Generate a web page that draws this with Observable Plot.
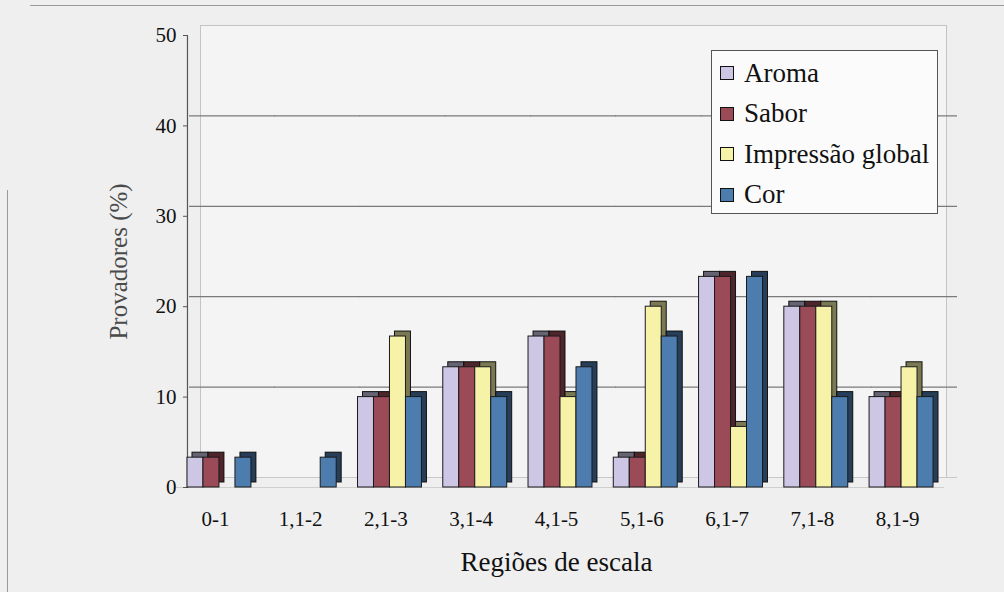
<!DOCTYPE html>
<html>
<head>
<meta charset="utf-8">
<script src="https://cdn.jsdelivr.net/npm/d3@7"></script>
<script src="https://cdn.jsdelivr.net/npm/@observablehq/plot@0.6"></script>
<style>
  html, body { margin: 0; padding: 0; background: #efefef; }
  #wrap { position: relative; width: 1004px; height: 592px; overflow: hidden; font-family: "Liberation Serif", "Times New Roman", serif; }
  #chart svg { display: block; }
  #legend { position: absolute; left: 711px; top: 50px; width: 225px; height: 162px; background: #fbfbfb; border: 1px solid #555; box-sizing: content-box; }
  .item { position: absolute; left: 8px; height: 30px; display: flex; align-items: center; font-family: "Liberation Serif", "Times New Roman", serif; font-size: 27px; color: #111; white-space: nowrap; }
  .sw { width: 12px; height: 12px; border: 1.5px solid #111; margin-right: 10px; flex: none; }
  #topline { position: absolute; left: 30px; top: 5px; width: 974px; height: 1px; background: #9a9a9a; }
  #leftline { position: absolute; left: 7px; top: 190px; width: 1px; height: 402px; background: #9a9a9a; }
</style>
</head>
<body>
<div id="wrap">
  <div id="topline"></div>
  <div id="leftline"></div>
  <div id="chart"></div>
  <div id="legend"></div>
</div>
<script>
// ---- data ----
const regions = ["0-1", "1,1-2", "2,1-3", "3,1-4", "4,1-5", "5,1-6", "6,1-7", "7,1-8", "8,1-9"];
const series = ["Aroma", "Sabor", "Impressão global", "Cor"];
const aroma     = [3.3, 0, 10, 13.3, 16.7, 3.3, 23.3, 20, 10];
const sabor     = [3.3, 0, 10, 13.3, 16.7, 3.3, 23.3, 20, 10];
const impressao = [0, 0, 16.7, 13.3, 10, 20, 6.7, 20, 13.3];
const cor       = [3.3, 3.3, 10, 10, 13.3, 16.7, 23.3, 10, 10];
const colors = ["#cdc6e4", "#9b4a57", "#f6f3a8", "#4d7dae"];
const yTicks = [0, 10, 20, 30, 40, 50];
const gridValues = [10, 20, 30, 40];
const yLabel = "Provadores (%)";
const xLabel = "Regiões de escala";

const seriesValues = [aroma, sabor, impressao, cor];
const rows = [];
regions.forEach((r, i) => {
  series.forEach((s, j) => rows.push({region: r, series: s, value: seriesValues[j][i]}));
});

const depthX = 5, depthY = -5;   // bar extrusion
const wallX = 13, wallY = -10;   // back wall offset
const bridge = -11;              // extends per-facet rules across the gaps

const chart = Plot.plot({
  width: 1004,
  height: 592,
  marginTop: 35,
  marginBottom: 105,
  marginLeft: 173,
  marginRight: 57,
  style: {fontFamily: "Liberation Serif", background: "transparent", color: "#111"},
  fx: {domain: regions, paddingInner: 0.25, paddingOuter: 0.164, round: false},
  x: {domain: series, padding: 0, axis: null, round: false},
  y: {domain: [0, 50], axis: null},
  color: {domain: series, range: colors},
  marks: [
    // back wall + gridlines
    Plot.frame({facet: "super", dx: wallX, dy: wallY, stroke: "#c4c4c4", fill: "#f4f4f4"}),
    Plot.ruleY(gridValues, {dx: wallX, dy: wallY, insetLeft: bridge, insetRight: bridge, stroke: "#7a7a7a", strokeWidth: 1.2}),
    Plot.ruleY([0], {dx: wallX, dy: wallY, insetLeft: bridge, insetRight: bridge, stroke: "#c8c8c8", strokeWidth: 1}),
    Plot.ruleY([0], {insetLeft: bridge, insetRight: bridge, stroke: "#cfcfcf", strokeWidth: 1}),
    // y axis line
    Plot.frame({facet: "super", anchor: "left", stroke: "#555", strokeWidth: 1.2}),
    Plot.axisY({ticks: yTicks, tickSize: 4, tickPadding: 7, fontSize: 21, label: null, stroke: "#555", fill: "#111"}),
    // 3D side/top of bars
    Plot.barY(rows, {fx: "region", x: "series", y: "value", fill: "series", dx: depthX, dy: depthY, stroke: "#1b1b1b", strokeWidth: 1}),
    Plot.barY(rows, {fx: "region", x: "series", y: "value", fill: "#000", fillOpacity: 0.5, dx: depthX, dy: depthY}),
    // front faces
    Plot.barY(rows, {fx: "region", x: "series", y: "value", fill: "series", stroke: "#1b1b1b", strokeWidth: 1}),
    // category labels
    Plot.axisFx({anchor: "bottom", tickSize: 0, tickPadding: 24, fontSize: 21, label: null, dx: -4}),
    // axis titles
    Plot.text([yLabel], {facet: "super", frameAnchor: "left", dx: -68, rotate: -90, textAnchor: "middle", lineAnchor: "middle", fontSize: 25, fill: "#4a4a4a"}),
    Plot.text([xLabel], {facet: "super", frameAnchor: "bottom", dx: -4, dy: 75, textAnchor: "middle", lineAnchor: "middle", fontSize: 27, fill: "#111"})
  ]
});
document.getElementById("chart").appendChild(chart);

// legend
const legend = document.getElementById("legend");
series.forEach((s, i) => {
  const item = document.createElement("div");
  item.className = "item";
  item.style.top = (7 + i * 40.5) + "px";
  const sw = document.createElement("span");
  sw.className = "sw";
  sw.style.background = colors[i];
  const t = document.createElement("span");
  t.textContent = s;
  item.appendChild(sw);
  item.appendChild(t);
  legend.appendChild(item);
});
</script>
</body>
</html>
